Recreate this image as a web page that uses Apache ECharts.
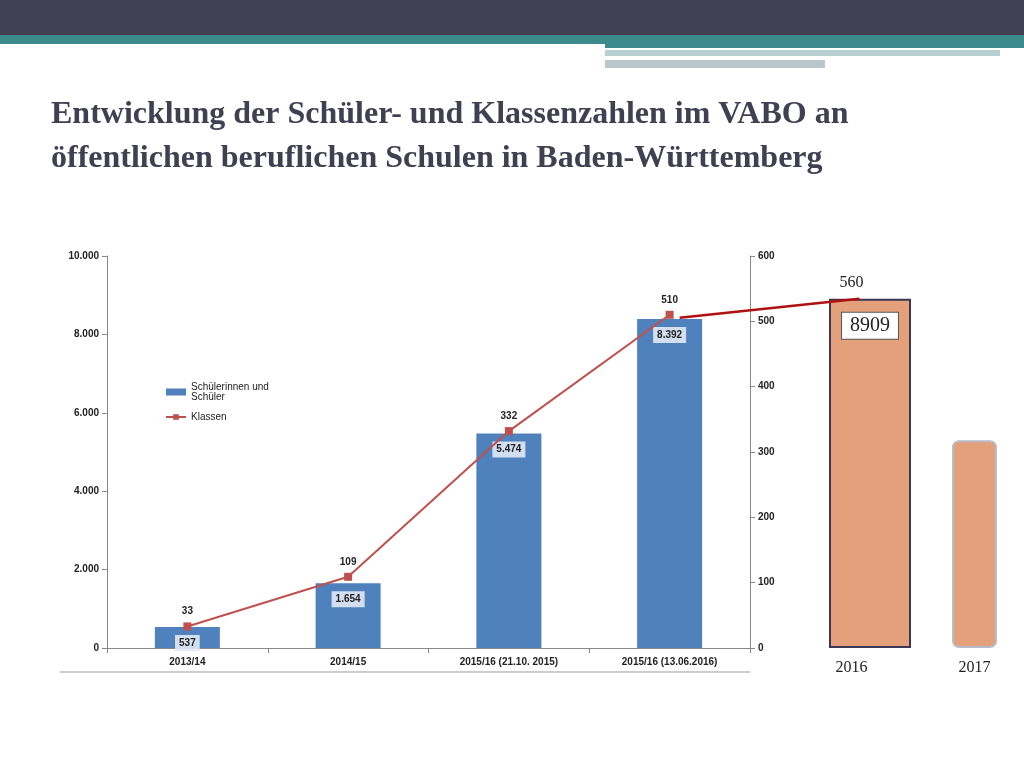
<!DOCTYPE html>
<html><head><meta charset="utf-8">
<script src="https://cdn.jsdelivr.net/npm/echarts@6/dist/echarts.min.js"></script>
<style>html,body{margin:0;background:#fff}#c{width:1024px;height:768px}</style>
</head><body><div id="c"></div>
<script>
const categories = ['2013/14', '2014/15', '2015/16 (21.10. 2015)', '2015/16 (13.06.2016)'];
const schueler = [537, 1654, 5474, 8392];
const klassen = [33, 109, 332, 510];
const extraCats = ['2016', '2017'];
const extraSchueler = [8909, 5300];
const extraKlassen = [560];

const fmt = (v) => String(v).replace(/\B(?=(\d{3})+(?!\d))/g, '.');
const chart = echarts.init(document.getElementById('c'));
const small = { fontFamily: 'Liberation Sans', fontSize: 10, fontWeight: 'bold', color: '#222' };

const header = [
  { type: 'rect', shape: { x: 0, y: 0, width: 1024, height: 35 }, style: { fill: '#404052' } },
  { type: 'rect', shape: { x: 0, y: 35, width: 1024, height: 13 }, style: { fill: '#3d8a8c' } },
  { type: 'rect', shape: { x: 0, y: 44, width: 605, height: 6 }, style: { fill: '#fff' } },
  { type: 'rect', shape: { x: 605, y: 50, width: 395, height: 6 }, style: { fill: '#b8d0d2' } },
  { type: 'rect', shape: { x: 605, y: 60, width: 220, height: 8 }, style: { fill: '#b8c8cc' } },
  { type: 'line', shape: { x1: 60, y1: 672, x2: 750, y2: 672 }, style: { stroke: '#999', lineWidth: 1 } }
];

chart.setOption({
  animation: false,
  title: {
    text: 'Entwicklung der Schüler- und Klassenzahlen im VABO an\nöffentlichen beruflichen Schulen in Baden-Württemberg',
    left: 46, top: 88,
    textStyle: { fontFamily: 'Liberation Serif', fontSize: 32, fontWeight: 'bold', color: '#404052', lineHeight: 44 }
  },
  legend: {
    orient: 'vertical', left: 160, top: 377, itemGap: 10, itemWidth: 20, itemHeight: 7,
    textStyle: { ...small, fontWeight: 'normal', fontSize: 10 },
    data: [{ name: 'Schülerinnen und\nSchüler', icon: 'rect' }, { name: 'Klassen' }]
  },
  grid: [
    { left: 107, right: 274, top: 256, bottom: 120, outerBoundsMode: 'none' },
    { left: 790, right: -12, top: 256, bottom: 120, outerBoundsMode: 'none' }
  ],
  xAxis: [
    { type: 'category', data: categories, gridIndex: 0,
      axisLine: { lineStyle: { color: '#888' } }, axisTick: { show: true },
      axisLabel: { ...small, margin: 9 } },
    { type: 'category', data: extraCats, gridIndex: 1,
      axisLine: { show: false }, axisTick: { show: false },
      axisLabel: { fontFamily: 'Liberation Serif', fontSize: 16, color: '#222', margin: 12 } }
  ],
  yAxis: [
    { type: 'value', min: 0, max: 10000, interval: 2000, gridIndex: 0,
      axisLine: { show: true, lineStyle: { color: '#888' } }, axisTick: { show: true },
      splitLine: { show: false }, axisLabel: { ...small, formatter: fmt } },
    { type: 'value', min: 0, max: 600, interval: 100, gridIndex: 0, position: 'right',
      axisLine: { show: true, lineStyle: { color: '#888' } }, axisTick: { show: true },
      splitLine: { show: false }, axisLabel: small },
    { type: 'value', min: 0, max: 10000, gridIndex: 1, show: false },
    { type: 'value', min: 0, max: 600, gridIndex: 1, show: false }
  ],
  series: [
    { name: 'Schülerinnen und\nSchüler', type: 'bar', data: schueler, barWidth: 65,
      itemStyle: { color: '#4f81bd' },
      label: { show: true, position: 'insideTop', distance: 8, formatter: (p) => fmt(p.value),
        ...small, backgroundColor: 'rgba(225,232,245,0.9)', padding: [3, 4] } },
    { name: 'Klassen', type: 'line', yAxisIndex: 1, data: klassen,
      symbol: 'rect', symbolSize: 8, itemStyle: { color: '#c0504d' }, lineStyle: { color: '#c0504d', width: 2 },
      label: { show: true, position: 'top', distance: 6, ...small } },
    { type: 'bar', xAxisIndex: 1, yAxisIndex: 2, data: [extraSchueler[0], null], barWidth: 82,
      itemStyle: { color: '#e3a07b', borderColor: '#3b3656', borderWidth: 2 },
      label: { show: true, position: 'insideTop', distance: 14, fontFamily: 'Liberation Serif', fontSize: 20,
        color: '#222', backgroundColor: '#fff', borderColor: '#555', borderWidth: 1, padding: [3, 8] } },
    { type: 'bar', xAxisIndex: 1, yAxisIndex: 2, data: [null, extraSchueler[1]], barWidth: 45, barGap: '-100%',
      itemStyle: { color: '#e3a07b', borderColor: '#b9bcc8', borderWidth: 2, borderRadius: 6 } }
  ],
  graphic: header
});

// connect the last Klassen point to the 2016 bar, label with extra value
const p1 = chart.convertToPixel({ xAxisIndex: 0, yAxisIndex: 1 }, [3, klassen[3]]);
const p2 = chart.convertToPixel({ xAxisIndex: 1, yAxisIndex: 2 }, [0, extraSchueler[0]]);
chart.setOption({
  graphic: header.concat([
    { type: 'line', shape: { x1: p1[0] + 10, y1: p1[1] + 3, x2: p2[0] + 8, y2: p2[1] }, style: { stroke: '#b01010', lineWidth: 2.5 }, z: 10 },
    { type: 'text', x: p2[0], y: p2[1] - 24, style: { text: String(extraKlassen[0]), font: '16px Liberation Serif', fill: '#222', align: 'center' } }
  ])
});
</script></body></html>
